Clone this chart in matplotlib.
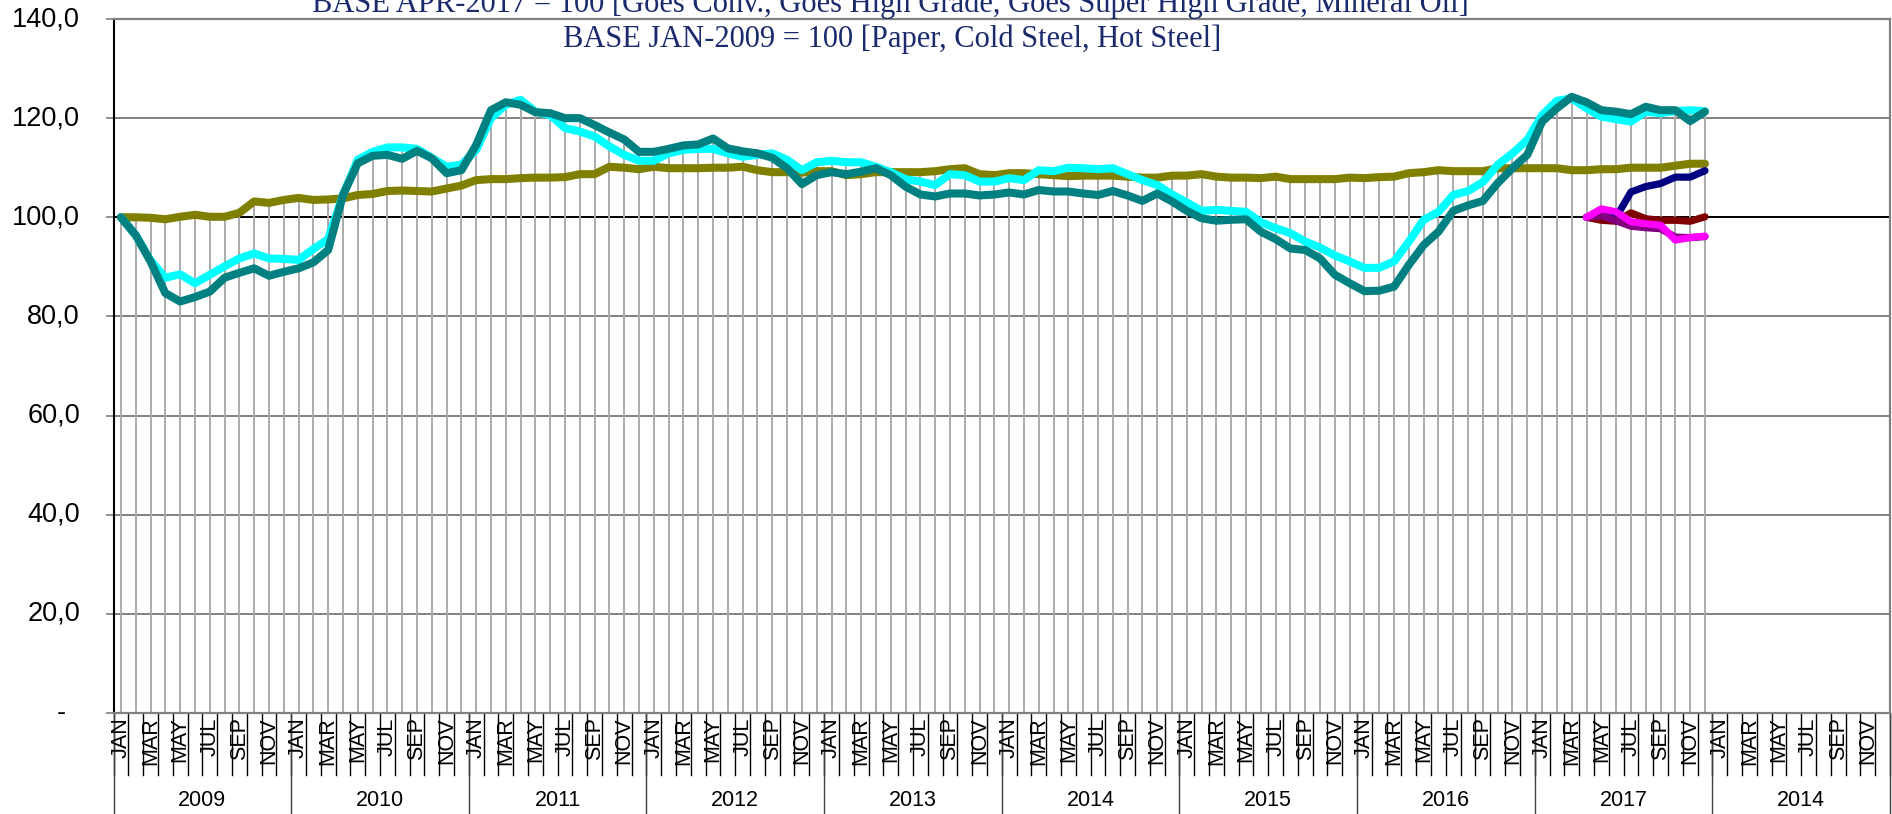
import numpy as np
import matplotlib.pyplot as plt
from matplotlib.transforms import blended_transform_factory

# monthly index values, JAN 2009 .. DEC 2017 (base JAN-2009 = 100)
paper = [100.0, 100.0, 99.9, 99.6, 100.1, 100.5, 100.1, 100.1, 100.9, 103.2, 102.9, 103.5,
         103.9, 103.5, 103.6, 103.8, 104.5, 104.7, 105.3, 105.4, 105.3, 105.2, 105.8, 106.4,
         107.5, 107.7, 107.7, 107.9, 108.0, 108.0, 108.1, 108.7, 108.7, 110.2, 110.0, 109.7,
         110.2, 109.9, 109.9, 109.9, 110.0, 110.0, 110.2, 109.5, 109.1, 109.1, 109.0, 109.3,
         109.3, 108.5, 108.7, 109.1, 109.1, 109.1, 109.1, 109.3, 109.7, 109.9, 108.7, 108.5,
         108.9, 108.9, 108.7, 108.5, 108.3, 108.4, 108.4, 108.4, 108.2, 108.0, 108.0, 108.4,
         108.4, 108.7, 108.2, 108.0, 108.0, 107.9, 108.2, 107.7, 107.7, 107.7, 107.7, 108.0,
         107.9, 108.1, 108.2, 108.9, 109.1, 109.5, 109.3, 109.3, 109.3, 109.9, 109.9, 109.9,
         109.9, 109.9, 109.5, 109.5, 109.7, 109.7, 110.0, 110.0, 110.0, 110.4, 110.8, 110.8]
cold_steel = [100.0, 96.4, 91.3, 87.8, 88.5, 86.7, 88.4, 90.1, 91.7, 92.7, 91.7, 91.6,
              91.4, 93.6, 95.6, 104.5, 111.6, 113.2, 114.1, 114.1, 113.8, 112.0, 110.2, 110.6,
              113.6, 120.0, 122.7, 123.7, 121.3, 120.6, 118.0, 117.3, 116.3, 114.3, 112.6, 111.4,
              111.4, 112.9, 113.6, 113.8, 113.8, 112.9, 112.2, 112.6, 112.9, 111.6, 109.5, 111.1,
              111.4, 111.1, 111.1, 110.2, 109.1, 107.7, 107.2, 106.5, 108.7, 108.5, 107.2, 107.2,
              107.9, 107.5, 109.5, 109.3, 110.0, 109.9, 109.7, 109.9, 108.7, 107.5, 106.5, 104.6,
              103.0, 101.3, 101.5, 101.3, 101.1, 99.0, 97.8, 96.8, 95.1, 93.9, 92.3, 91.1,
              89.8, 89.8, 91.1, 95.1, 99.5, 101.1, 104.5, 105.3, 107.1, 110.6, 112.9, 115.6,
              120.6, 123.5, 124.0, 122.0, 120.3, 119.8, 119.3, 121.3, 121.0, 121.4, 121.6, 121.4]
hot_steel = [100.0, 96.4, 91.1, 84.7, 83.0, 83.9, 85.0, 87.8, 88.8, 89.7, 88.2, 89.0,
             89.7, 90.9, 93.4, 104.5, 110.9, 112.4, 112.6, 111.8, 113.4, 111.9, 108.9, 109.5,
             114.6, 121.6, 123.2, 122.7, 121.2, 121.0, 120.0, 120.0, 118.6, 117.1, 115.7, 113.2,
             113.2, 113.8, 114.5, 114.7, 115.9, 113.9, 113.3, 112.9, 112.0, 109.9, 106.7, 108.5,
             109.1, 108.7, 109.2, 109.9, 108.5, 106.2, 104.6, 104.2, 104.8, 104.8, 104.4, 104.6,
             105.0, 104.6, 105.5, 105.2, 105.2, 104.8, 104.5, 105.3, 104.4, 103.3, 104.8, 103.2,
             101.3, 99.8, 99.3, 99.5, 99.6, 97.1, 95.6, 93.7, 93.4, 91.7, 88.4, 86.7,
             85.1, 85.2, 86.0, 90.4, 94.4, 97.1, 101.3, 102.4, 103.3, 106.9, 109.9, 112.6,
             119.3, 122.0, 124.3, 123.2, 121.6, 121.3, 120.8, 122.3, 121.6, 121.6, 119.4, 121.3]

# APR 2017 .. DEC 2017 (base APR-2017 = 100)
start_2017 = 99
goes_conv = [100.0, 100.7, 100.0, 105.1, 106.2, 106.8, 108.1, 108.1, 109.4]
goes_hg = [100.0, 99.4, 99.2, 100.9, 99.7, 99.4, 99.4, 99.2, 100.1]
goes_shg = [100.0, 100.3, 99.3, 98.2, 97.9, 97.7, 96.0, 95.9, 96.1]
mineral_oil = [100.0, 101.7, 101.1, 99.1, 98.7, 98.4, 95.4, 95.9, 96.2]

month_labels = ['JAN', '', 'MAR', '', 'MAY', '', 'JUL', '', 'SEP', '', 'NOV', ''] * 10
year_labels = ['2009', '2010', '2011', '2012', '2013', '2014', '2015', '2016', '2017', '2014']
ytick_vals = [0, 20, 40, 60, 80, 100, 120, 140]
ytick_labels = ['-', '20,0', '40,0', '60,0', '80,0', '100,0', '120,0', '140,0']

n = len(paper)
x = np.arange(n) + 0.5
pad = np.full(start_2017, np.nan)
late = [np.r_[pad, s] for s in (goes_conv, goes_hg, goes_shg, mineral_oil)]

W, H = 1892, 814
fig = plt.figure(figsize=(W / 100, H / 100), dpi=100)
ax = fig.add_axes([113.5 / W, 101 / H, (1890 - 113.5) / W, 694 / H])

# drop lines from highest series to the axis
tops = np.nanmax(np.vstack([paper, cold_steel, hot_steel] + late), axis=0)
ax.vlines(x, 0, tops, color='#ababab', lw=1.4, zorder=1)

for v in ytick_vals[1:-1]:
    ax.axhline(v, color='black' if v == 100 else '#808080', lw=1.4, zorder=0.5)

lw = 5.8
kw = dict(solid_capstyle='round', solid_joinstyle='round')
ax.plot(x, paper, color='#808000', lw=lw, zorder=3, **kw)
ax.plot(x, cold_steel, color='#00ffff', lw=lw, zorder=4, **kw)
ax.plot(x, hot_steel, color='#008080', lw=lw, zorder=5, **kw)
for s, c in zip(late, ['#000080', '#800000', '#800080', '#ff00ff']):
    ax.plot(x, s, color=c, lw=5.2, zorder=6, **kw)

ax.set_xlim(0, 120)
ax.set_ylim(0, 140)
ax.set_xticks([])
ax.set_yticks(ytick_vals)
ax.set_yticklabels([])
ax.tick_params(axis='y', length=6, width=1.2, color='#808080', direction='out')
ax.spines['left'].set_color('black')
ax.spines['left'].set_linewidth(1.5)
for side in ['top', 'right', 'bottom']:
    ax.spines[side].set_color('#808080')
    ax.spines[side].set_linewidth(1.6)

# y labels
ytr = blended_transform_factory(ax.transAxes, ax.transData)
for v, lab in zip(ytick_vals, ytick_labels):
    xpos = -0.0293 if lab == '-' else -0.0189
    ax.text(xpos, v, lab, transform=ytr, ha='center' if lab == '-' else 'right',
            va='center', fontsize=19.5, family='Liberation Sans')

# two-level category axis
xtr = blended_transform_factory(ax.transData, ax.transAxes)
for i in range(121):
    ax.plot([i, i], [-0.0893, 0], transform=xtr, color='black', lw=1.0, clip_on=False)
for i in range(0, 121, 12):
    ax.plot([i, i], [-0.146, 0], transform=xtr, color='#404040', lw=1.0, clip_on=False)
for i, lab in enumerate(month_labels):
    if lab:
        ax.text(i + 0.5, -0.006, lab, transform=xtr, rotation=90, ha='center', va='top',
                fontsize=15.5, family='Liberation Sans')
for k, lab in enumerate(year_labels):
    ax.text(12 * k + 6, -0.1254, lab, transform=xtr, ha='center', va='center',
            fontsize=15.5, family='Liberation Sans')

navy = '#1a2a6c'
fig.text(890 / W, 1 - 12 / H, 'BASE APR-2017 = 100 [Goes Conv., Goes High Grade, Goes Super High Grade, Mineral Oil]',
         ha='center', va='baseline', fontsize=22, family='Liberation Serif', color=navy)
fig.text(892 / W, 1 - 47 / H, 'BASE JAN-2009 = 100 [Paper, Cold Steel, Hot Steel]',
         ha='center', va='baseline', fontsize=22, family='Liberation Serif', color=navy)

fig.savefig('out.png', dpi=100)
